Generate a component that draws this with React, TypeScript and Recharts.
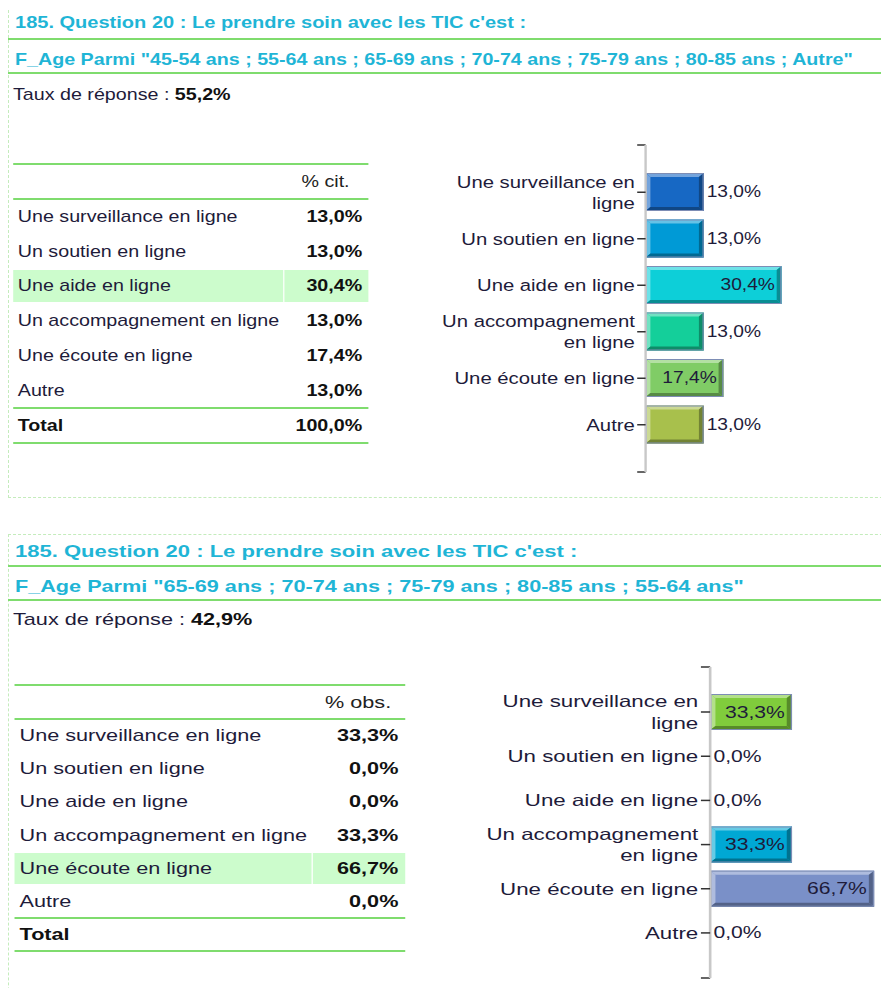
import React from 'react';
import { BarChart, Bar, XAxis, YAxis, Cell, LabelList, Text, Customized } from 'recharts';

const FONT = "'Liberation Sans', Arial, Helvetica, sans-serif";
const INK = '#1e1b3a';
const TITLE = '#1fb5d6';
const RULE = '#7fdc6e';
const FRAME = '#c4ecbc';

// shared answer list
const categories = [
  'Une surveillance en ligne',
  'Un soutien en ligne',
  'Une aide en ligne',
  'Un accompagnement en ligne',
  'Une écoute en ligne',
  'Autre',
];

// first cross-tab: 45-85 ans + Autre
const valuesAll = [13.0, 13.0, 30.4, 13.0, 17.4, 13.0];
const colorsAll = ['#1768c4', '#009ad6', '#0dcfd8', '#14cf9a', '#80cc66', '#a8c04c'];

// second cross-tab: 55-85 ans
const valuesSenior = [33.3, 0.0, 0.0, 33.3, 66.7, 0.0];
const colorsSenior = ['#80cc3c', '#009ad6', '#0dcfd8', '#00a8d4', '#7a90c8', '#a8c04c'];

const questionTitle = "185. Question 20 : Le prendre soin avec les TIC c'est :";
const filterAll = 'F_Age Parmi "45-54 ans ; 55-64 ans ; 65-69 ans ; 70-74 ans ; 75-79 ans ; 80-85 ans ; Autre"';
const filterSenior = 'F_Age Parmi "65-69 ans ; 70-74 ans ; 75-79 ans ; 80-85 ans ; 55-64 ans"';

const fmt = (v: number) => v.toFixed(1).replace('.', ',') + '%';

const mix = (hex: string, to: string, t: number) => {
  const a = parseInt(hex.slice(1), 16);
  const b = parseInt(to.slice(1), 16);
  const ch = (s: number) => {
    const c1 = (a >> s) & 255;
    const c2 = (b >> s) & 255;
    return Math.round(c1 + (c2 - c1) * t);
  };
  return `rgb(${ch(16)},${ch(8)},${ch(0)})`;
};

// bar with a bevelled edge
const BevelBar = (props: any) => {
  const { x, y, width, height, fill } = props;
  if (!width || width <= 0.5) return null;
  const b = Math.min(4, width / 2);
  const light = mix(fill, '#ffffff', 0.4);
  const dark = mix(fill, '#000000', 0.32);
  const r = x + width;
  const btm = y + height;
  return (
    <g>
      <rect x={x} y={y} width={width} height={height} fill={fill} />
      <polygon points={`${x},${y} ${r},${y} ${r - b},${y + b} ${x + b},${y + b}`} fill={light} />
      <polygon points={`${x},${y} ${x + b},${y + b} ${x + b},${btm - b} ${x},${btm}`} fill={light} />
      <polygon points={`${x},${btm} ${x + b},${btm - b} ${r - b},${btm - b} ${r},${btm}`} fill={dark} />
      <polygon points={`${r},${y} ${r},${btm} ${r - b},${btm - b} ${r - b},${y + b}`} fill={dark} />
      <rect x={x + 0.5} y={y + 0.5} width={width - 1} height={height - 1} fill="none" stroke="#7d8db5" />
    </g>
  );
};

const ValueLabel = (props: any) => {
  const { x, y, width, height, value } = props;
  const inside = width > 55;
  return (
    <text
      x={inside ? x + width - 5.5 : x + width + 2.5}
      y={y + height / 2}
      textAnchor={inside ? 'end' : 'start'}
      dominantBaseline="central"
      fontSize={16}
      fontFamily={FONT}
      fill={INK}
    >
      {fmt(Number(value))}
    </text>
  );
};

const tickStyle = { fontSize: 16.9, fontFamily: FONT };

const CategoryTick = (props: any) => {
  const { x, y, payload } = props;
  return (
    <Text
      x={x}
      y={y}
      width={170}
      textAnchor="end"
      verticalAnchor="middle"
      lineHeight="1.27em"
      style={tickStyle}
      fontSize={16.9}
      fontFamily={FONT}
      fill={INK}
    >
      {payload.value}
    </Text>
  );
};

const AxisEnds = ({ ax, top, bottom }: any) => (
  <g stroke="#333" strokeWidth={1.5}>
    <line x1={ax - 7} x2={ax} y1={top} y2={top} />
    <line x1={ax - 7} x2={ax} y1={bottom} y2={bottom} />
  </g>
);

interface Layout {
  sx: number;
  frameTop: number;
  frameBottom: number;
  titleY: number;
  rule1: number;
  subY: number;
  rule2: number;
  rateY: number;
  tableTop: number;
  headerH: number;
  rowH: number;
  totalH: number;
  chartTop: number;
  chartBottom: number;
  pad: number;
  barSize: number;
  domainMax: number;
}

interface PanelProps {
  subtitle: string;
  rate: string;
  colLabel: string;
  total: string;
  values: number[];
  colors: string[];
  L: Layout;
}

const AXIS_W = 208;
const PLOT_W = 149;

const Panel: React.FC<PanelProps> = ({ subtitle, rate, colLabel, total, values, colors, L }) => {
  const data = categories.map((name, i) => ({ name, value: values[i] }));
  const top = values.indexOf(Math.max(...values));
  const tLeft = 10.8;
  const tWidth = 296;
  const split = 225;
  const rowsTop = L.tableTop + L.headerH;
  const totalTop = rowsTop + L.rowH * values.length;
  const bottom = totalTop + L.totalH;
  const chartH = L.chartBottom - L.chartTop;
  const hl = '#ccfccc';

  const hLine = (y: number, left: number, width: number, key: string) => (
    <div key={key} style={{ position: 'absolute', left, top: y - 1, width, height: 2, background: RULE }} />
  );

  return (
    <>
      <div
        style={{
          position: 'absolute',
          left: 8,
          top: L.frameTop,
          width: 900,
          height: L.frameBottom - L.frameTop,
          border: `1px dashed ${FRAME}`,
          boxSizing: 'border-box',
        }}
      />
      {hLine(L.rule1, 8, 881, 'r1')}
      {hLine(L.rule2, 8, 881, 'r2')}

      <div
        style={{
          position: 'absolute',
          left: 0,
          top: 0,
          width: 889 / L.sx,
          height: 996,
          transform: `scaleX(${L.sx})`,
          transformOrigin: '0 0',
        }}
      >
        <div style={{ position: 'absolute', left: 15 / L.sx, top: L.titleY - 10, lineHeight: '20px', fontSize: 16.7, fontWeight: 'bold', color: TITLE, whiteSpace: 'nowrap' }}>
          {questionTitle}
        </div>
        <div style={{ position: 'absolute', left: 15 / L.sx, top: L.subY - 10, lineHeight: '20px', fontSize: 16.4, fontWeight: 'bold', color: TITLE, whiteSpace: 'nowrap' }}>
          {subtitle}
        </div>
        <div style={{ position: 'absolute', left: 13 / L.sx, top: L.rateY - 10, lineHeight: '20px', fontSize: 16.4, color: INK, whiteSpace: 'nowrap' }}>
          Taux de réponse : <b style={{ color: '#111' }}>{rate}</b>
        </div>

        {/* results table */}
        {hLine(L.tableTop, tLeft, tWidth, 't0')}
        <div style={{ position: 'absolute', left: tLeft + split, top: L.tableTop, width: tWidth - split, height: L.headerH, display: 'flex', alignItems: 'center', justifyContent: 'center', fontSize: 16.4, color: '#222' }}>
          {colLabel}
        </div>
        {hLine(rowsTop, tLeft, tWidth, 't1')}
        {categories.map((c, i) => (
          <div
            key={c}
            style={{
              position: 'absolute',
              left: tLeft,
              top: rowsTop + i * L.rowH + 1,
              width: tWidth,
              height: L.rowH - 2,
              display: 'flex',
              alignItems: 'center',
              fontSize: 16.4,
              color: INK,
            }}
          >
            <div style={{ width: split, height: '100%', display: 'flex', alignItems: 'center', paddingLeft: 4, boxSizing: 'border-box', background: i === top ? hl : 'transparent' }}>
              {c}
            </div>
            <div style={{ width: tWidth - split - 1, marginLeft: 1, height: '100%', display: 'flex', alignItems: 'center', justifyContent: 'flex-end', paddingRight: 5, boxSizing: 'border-box', fontWeight: 'bold', color: '#111', background: i === top ? hl : 'transparent' }}>
              {fmt(values[i])}
            </div>
          </div>
        ))}
        {hLine(totalTop, tLeft, tWidth, 't2')}
        <div style={{ position: 'absolute', left: tLeft, top: totalTop, width: tWidth, height: L.totalH, display: 'flex', alignItems: 'center', justifyContent: 'space-between', fontSize: 16.4, fontWeight: 'bold', color: '#111', padding: '0 5px 0 4px', boxSizing: 'border-box' }}>
          <span>Total</span>
          <span>{total}</span>
        </div>
        {hLine(bottom, tLeft, tWidth, 't3')}

        {/* bar chart */}
        <div style={{ position: 'absolute', left: 538 - AXIS_W, top: L.chartTop - 2 }}>
          <BarChart
            width={AXIS_W + PLOT_W + 90}
            height={chartH + 4}
            data={data}
            layout="vertical"
            margin={{ top: 2, right: 90, bottom: 2, left: 0 }}
          >
            <XAxis type="number" hide domain={[0, L.domainMax]} />
            <YAxis
              type="category"
              dataKey="name"
              width={AXIS_W}
              padding={{ top: L.pad, bottom: L.pad }}
              axisLine={{ stroke: '#c8c8c8', strokeWidth: 2 }}
              tickLine={{ stroke: '#333', strokeWidth: 1.5 }}
              tickSize={7}
              tickMargin={2}
              tick={<CategoryTick />}
              interval={0}
            />
            <Bar dataKey="value" barSize={L.barSize} shape={BevelBar} isAnimationActive={false}>
              {data.map((d, i) => (
                <Cell key={d.name} fill={colors[i]} />
              ))}
              <LabelList dataKey="value" content={ValueLabel} />
            </Bar>
            <Customized component={<AxisEnds ax={AXIS_W} top={2} bottom={chartH + 2} />} />
          </BarChart>
        </div>
      </div>
    </>
  );
};

const layoutAll: Layout = {
  sx: 1.2,
  frameTop: 5,
  frameBottom: 498,
  titleY: 23,
  rule1: 39,
  subY: 58.5,
  rule2: 73,
  rateY: 94,
  tableTop: 164,
  headerH: 35,
  rowH: 34.8,
  totalH: 35,
  chartTop: 145,
  chartBottom: 472,
  pad: 24,
  barSize: 38,
  domainMax: 40,
};

const layoutSenior: Layout = {
  sx: 1.32,
  frameTop: 534,
  frameBottom: 1100,
  titleY: 552,
  rule1: 566,
  subY: 586,
  rule2: 600,
  rateY: 619,
  tableTop: 685,
  headerH: 34,
  rowH: 33.2,
  totalH: 33,
  chartTop: 667,
  chartBottom: 978,
  pad: 23,
  barSize: 36,
  domainMax: 80,
};

export default function App() {
  return (
    <div style={{ position: 'relative', margin: -8, width: 889, height: 996, overflow: 'hidden', background: '#fff', fontFamily: FONT }}>
      <Panel subtitle={filterAll} rate="55,2%" colLabel="% cit." total="100,0%" values={valuesAll} colors={colorsAll} L={layoutAll} />
      <Panel subtitle={filterSenior} rate="42,9%" colLabel="% obs." total="" values={valuesSenior} colors={colorsSenior} L={layoutSenior} />
    </div>
  );
}
